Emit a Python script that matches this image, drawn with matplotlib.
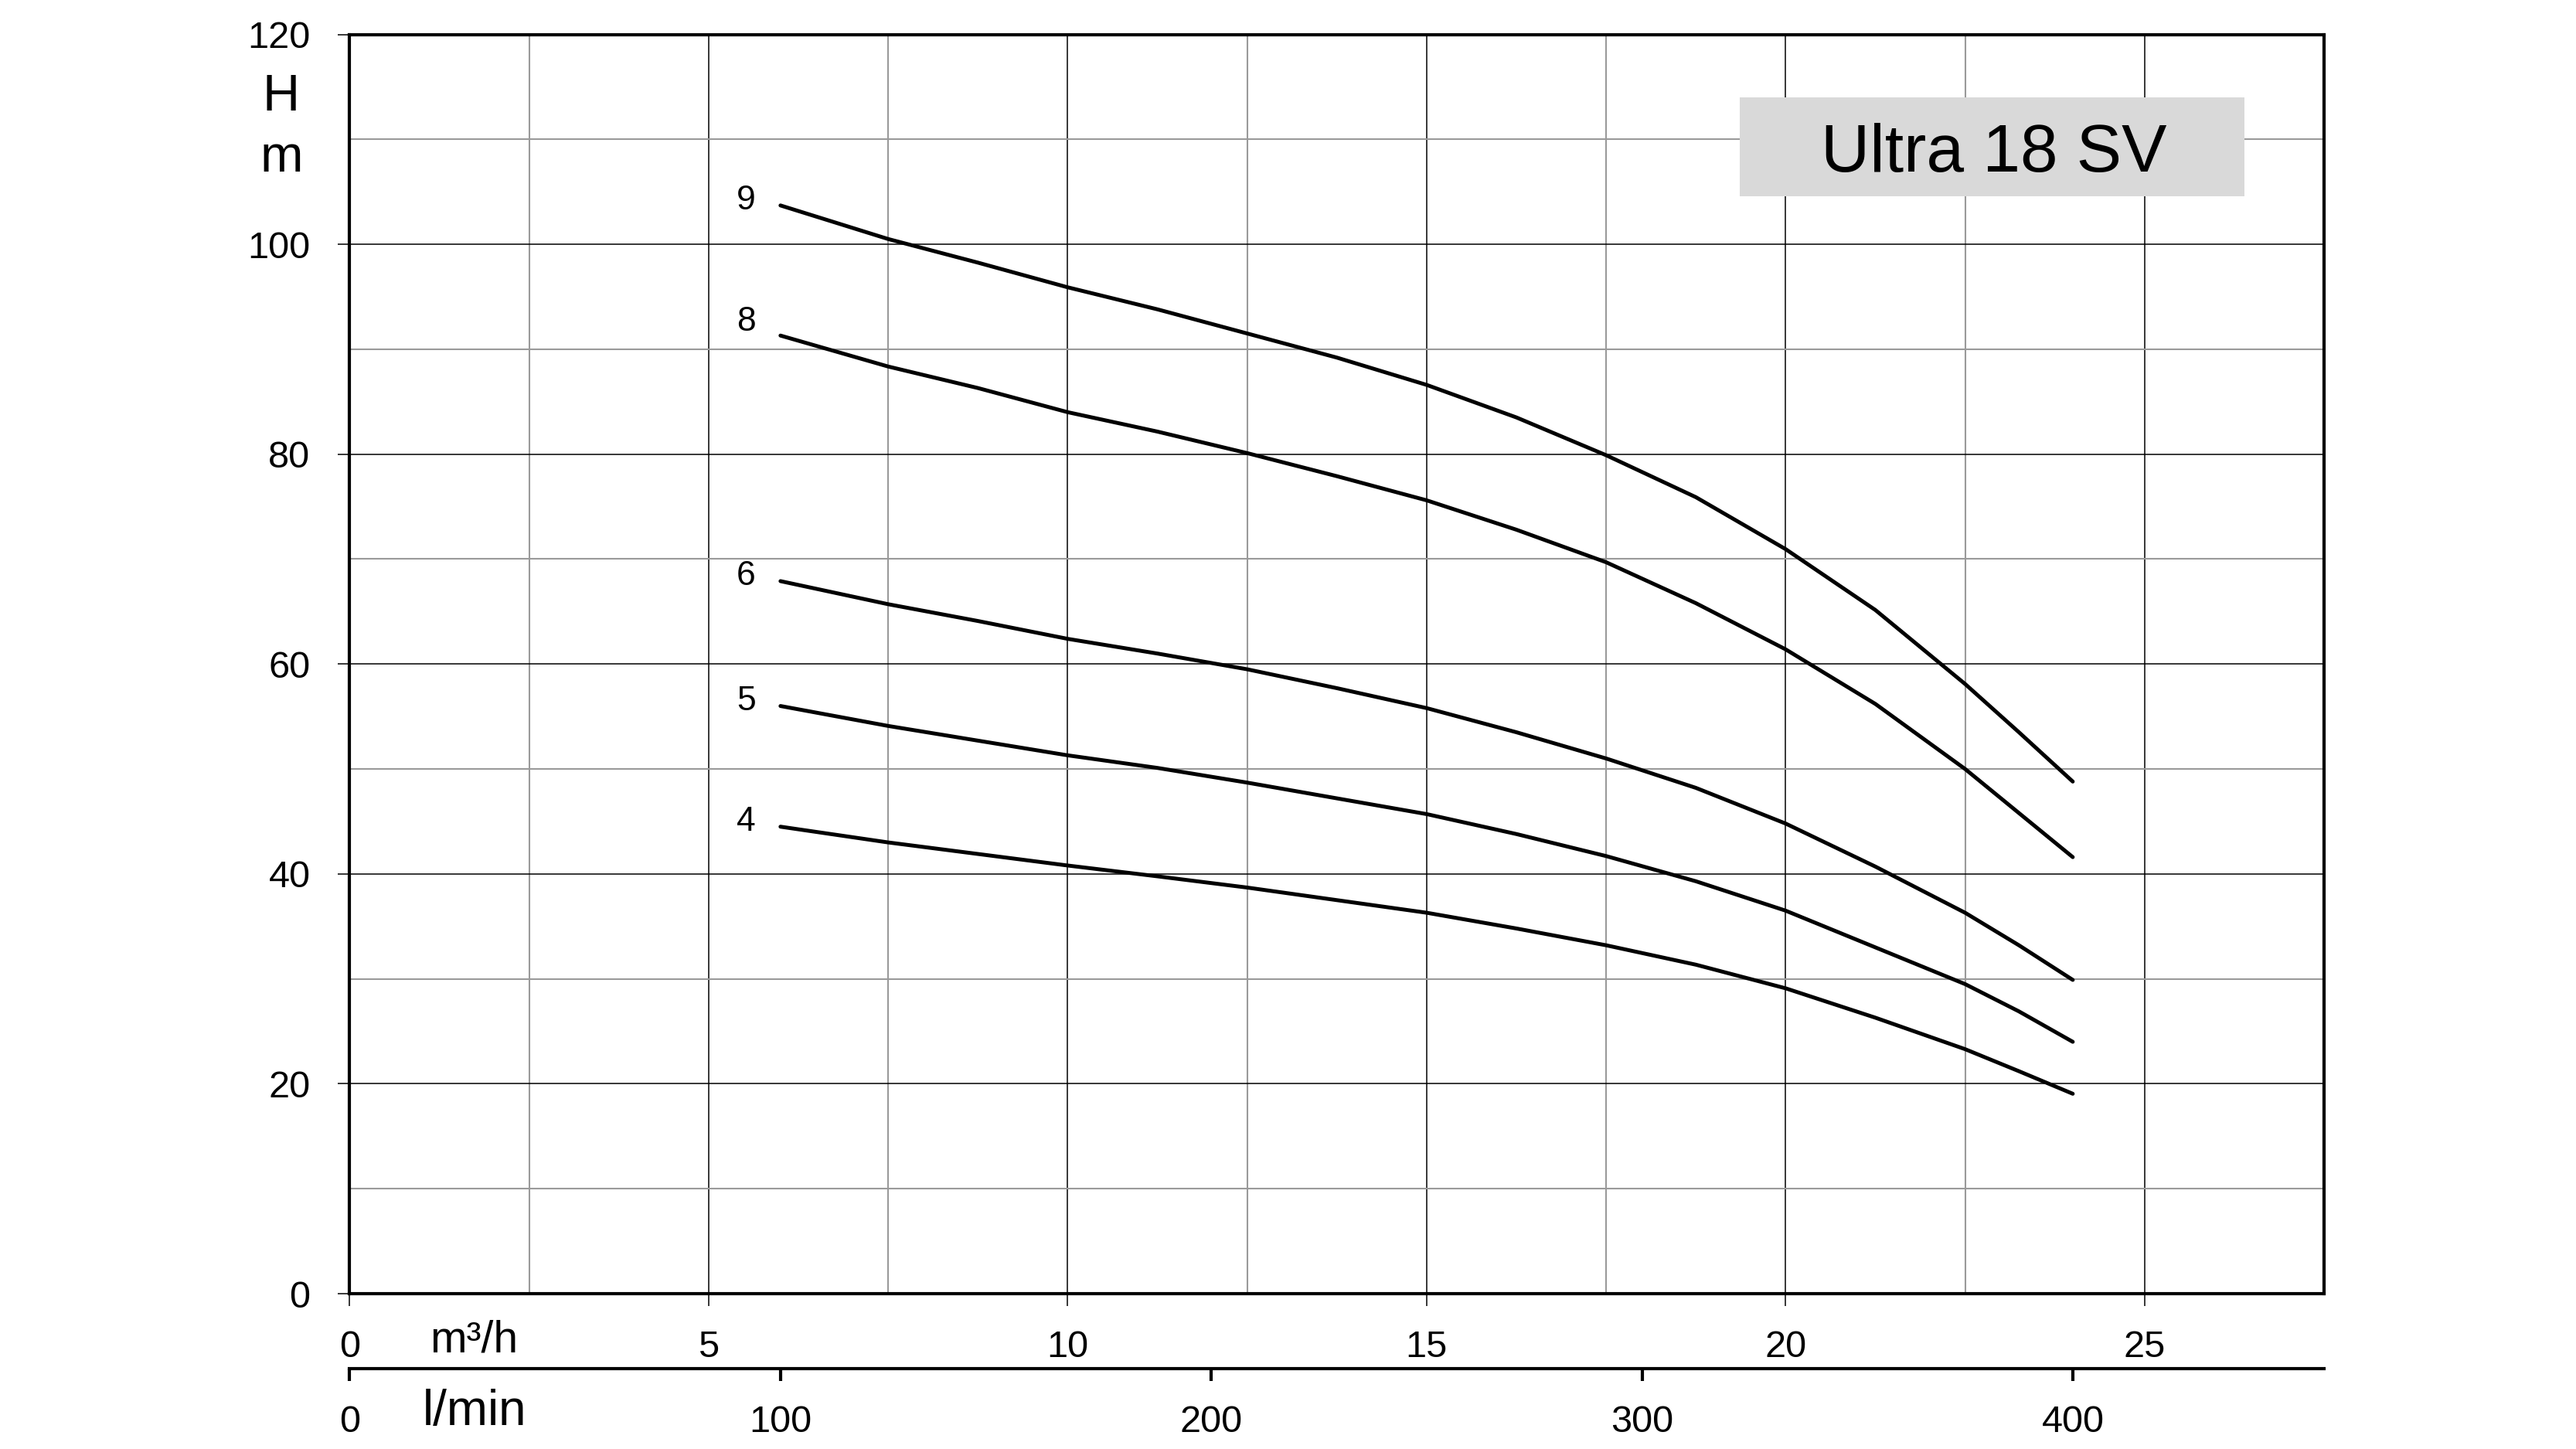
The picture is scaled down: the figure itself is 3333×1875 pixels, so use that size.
import matplotlib
matplotlib.use("Agg")
import matplotlib.pyplot as plt
from matplotlib.ticker import MultipleLocator, FixedLocator
from matplotlib.patches import Rectangle

plt.rcParams['font.family'] = ['Liberation Sans', 'DejaVu Sans']

# ---- data ----
title = "Ultra 18 SV"
flow_m3h = [6, 7.5, 8.75, 10, 11.25, 12.5, 13.75, 15, 16.25, 17.5, 18.75, 20, 21.25, 22.5, 23.25, 24]
head_9 = [103.7, 100.5, 98.25, 95.9, 93.8, 91.5, 89.2, 86.6, 83.5, 79.9, 75.9, 70.95, 65.15, 58.1, 53.5, 48.8]
head_8 = [91.3, 88.35, 86.3, 84.0, 82.15, 80.1, 77.9, 75.6, 72.8, 69.7, 65.8, 61.4, 56.2, 50.0, 45.8, 41.6]
head_6 = [67.9, 65.7, 64.1, 62.4, 61.0, 59.5, 57.7, 55.8, 53.5, 51.0, 48.2, 44.8, 40.7, 36.3, 33.2, 29.9]
head_5 = [56.0, 54.1, 52.7, 51.3, 50.1, 48.7, 47.2, 45.7, 43.8, 41.7, 39.3, 36.5, 33.0, 29.5, 26.9, 24.0]
head_4 = [44.5, 43.0, 41.9, 40.8, 39.77, 38.7, 37.5, 36.3, 34.8, 33.2, 31.35, 29.1, 26.3, 23.3, 21.2, 19.05]
curve_labels = ["9", "8", "6", "5", "4"]
curves = [head_9, head_8, head_6, head_5, head_4]
x_ticks_m3h = [0, 5, 10, 15, 20, 25]
x_ticks_lmin = [0, 100, 200, 300, 400]
y_ticks = [0, 20, 40, 60, 80, 100, 120]

# ---- figure ----
W, H = 3333, 1875
fig = plt.figure(figsize=(W / 100, H / 100), dpi=100)
ax_left, ax_right = 452.5 / W, 3007 / W
ax_bottom, ax_top = 1 - 1674 / H, 1 - 44.5 / H
ax = fig.add_axes([ax_left, ax_bottom, ax_right - ax_left, ax_top - ax_bottom])

ax.set_xlim(0, 27.5)
ax.set_ylim(0, 120)

ax.xaxis.set_major_locator(FixedLocator(x_ticks_m3h))
ax.yaxis.set_major_locator(FixedLocator(y_ticks))
ax.xaxis.set_minor_locator(MultipleLocator(2.5))
ax.yaxis.set_minor_locator(MultipleLocator(10))
ax.set_xticklabels([str(v) for v in x_ticks_m3h])
ax.set_yticklabels([str(v) for v in y_ticks])

ax.set_axisbelow(True)
ax.grid(which='major', color='black', linewidth=1.1)
ax.grid(which='minor', color='#9a9a9a', linewidth=1.5)

ax.tick_params(axis='x', which='major', direction='out', length=11.5, width=1.1,
               labelsize=35, pad=22, top=False)
ax.tick_params(axis='y', which='major', direction='out', length=10.8, width=1.1,
               labelsize=35, pad=26, right=False)
ax.tick_params(which='minor', length=0)

for sp in ax.spines.values():
    sp.set_linewidth(3.0)
    sp.set_color('black')
    sp.set_zorder(5)

# curves
for lab, hv in zip(curve_labels, curves):
    ax.plot(flow_m3h, hv, color='black', linewidth=3.6, solid_capstyle='round',
            solid_joinstyle='round', zorder=3)
    dy = 1.3 if lab == "8" else 0.45
    ax.text(flow_m3h[0] - 0.48, hv[0] + dy, lab, fontsize=32, ha='center', va='center',
            zorder=4)

# title box
ax.add_patch(Rectangle((19.36, 104.6), 7.03, 9.4, facecolor='#d9d9d9',
                       edgecolor='none', zorder=2))
ax.text(22.9, 106.9, title, fontsize=63, ha='center', va='baseline', zorder=4)

# secondary axis in l/min
loc = -(1771 - 1674) / (1674 - 44.5)
sec = ax.secondary_xaxis(loc, functions=(lambda q: q * 1000 / 60, lambda l: l * 60 / 1000))
sec.set_xticks(x_ticks_lmin)
sec.set_xticklabels([str(v) for v in x_ticks_lmin])
sec.tick_params(direction='out', length=11.5, width=3.0, labelsize=35, pad=22)
for sp in sec.spines.values():
    sp.set_linewidth(3.0)

# unit labels
fig.text(364 / W, 1 - 143 / H, "H", fontsize=48, ha='center', va='baseline')
fig.text(364 / W, 1 - 221.7 / H, "m", fontsize=48, ha='center', va='baseline')
fig.text(556 / W, 1 - 1749 / H, "m³/h", fontsize=41, ha='left', va='baseline')
fig.text(547 / W, 1 - 1844 / H, "l/min", fontsize=46, ha='left', va='baseline')

fig.savefig("out.png", dpi=100, facecolor='white')
